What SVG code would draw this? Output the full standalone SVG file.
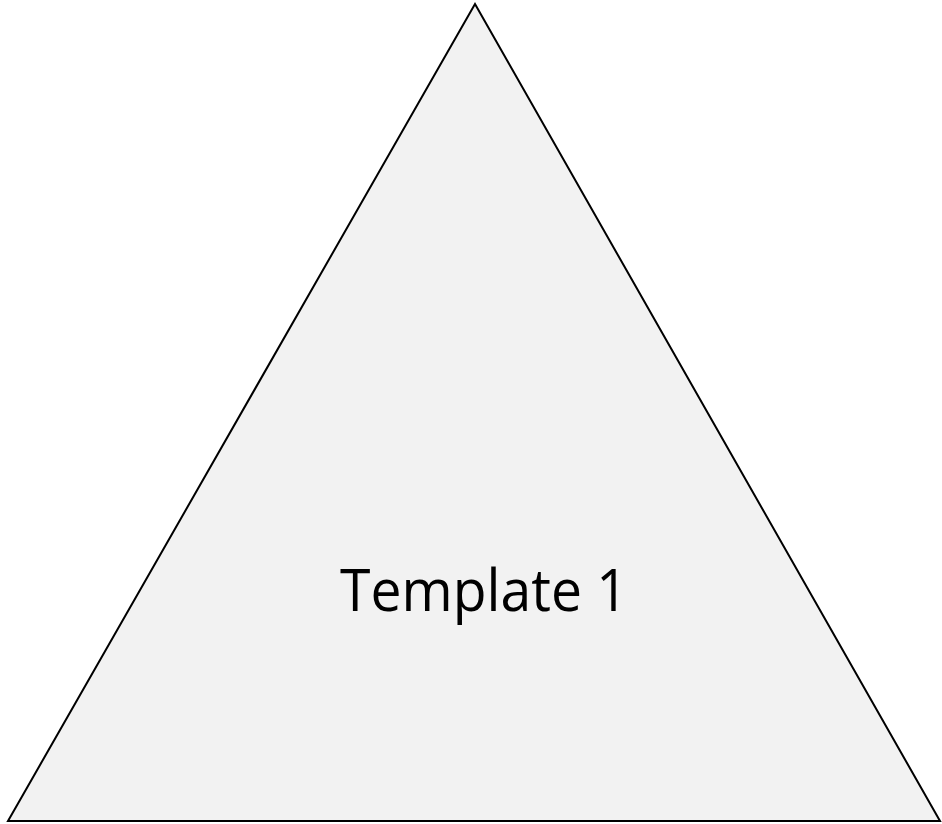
<svg xmlns="http://www.w3.org/2000/svg" width="942" height="824" viewBox="0 0 942 824">
<style>
.shape{fill:#f2f2f2;stroke:#000;stroke-width:2;stroke-linejoin:miter}
.label{font-family:"Open Sans","Liberation Sans",sans-serif;font-size:58px;fill:#000;text-anchor:middle}
</style>
<rect width="942" height="824" fill="#fff"/>
<g id="template1">
<polygon class="shape" points="475,4 940,821 8,821"/>
<text class="label" x="484" y="611" textLength="288" lengthAdjust="spacingAndGlyphs">Template 1</text>
</g>
<g id="connectors"></g>
</svg>
